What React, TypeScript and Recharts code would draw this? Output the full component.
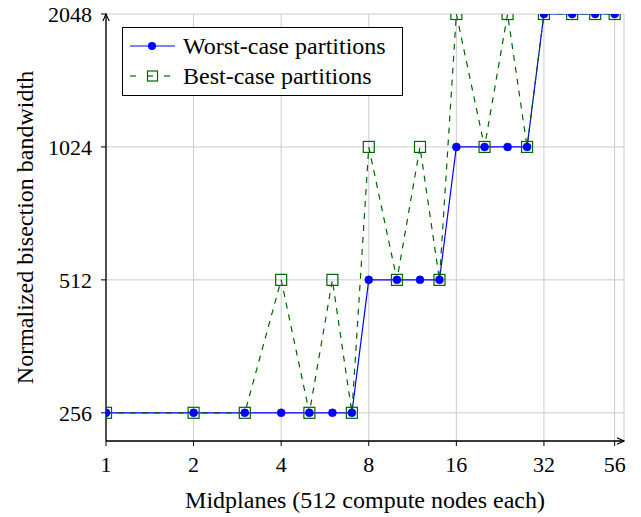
import { LineChart, Line, XAxis, YAxis, CartesianGrid } from 'recharts';

const midplanes = [1, 2, 3, 4, 5, 6, 7, 8, 10, 12, 14, 16, 20, 24, 28, 32, 40, 48, 56];
const worstCase = [256, 256, 256, 256, 256, 256, 256, 512, 512, 512, 512, 1024, 1024, 1024, 1024, 2048, 2048, 2048, 2048];
const bestCase = [256, 256, 256, 512, 256, 512, 256, 1024, 512, 1024, 512, 2048, 1024, 2048, 1024, 2048, 2048, 2048, 2048];
const xTicks = [1, 2, 4, 8, 16, 32, 56];
const yTicks = [256, 512, 1024, 2048];

const data = midplanes.map((m, i) => ({ m, worst: worstCase[i], best: bestCase[i] }));

const FONT = '"Liberation Serif", "DejaVu Serif", serif';
const BLUE = '#0000ff';
const GREEN = '#006400';

function SquareDot(props: any) {
  const { cx, cy, index } = props;
  if (cx == null || cy == null) return <g key={index} />;
  return <rect key={index} x={cx - 5.5} y={cy - 5.5} width={11} height={11} fill="none" stroke={GREEN} strokeWidth={1.2} />;
}

// legend drawn as a plain box over the plot, like pgfplots' north west legend
function LegendBox() {
  return (
    <div style={{ position: 'absolute', left: 122, top: 27, boxSizing: 'border-box', border: '1px solid #000', background: '#fff', width: 281, height: 69, paddingTop: 3, fontFamily: FONT, fontSize: 24, color: '#000', lineHeight: '30px' }}>
      <div style={{ display: 'flex', alignItems: 'center', height: 30 }}>
        <svg width={60} height={20} style={{ flex: 'none' }}>
          <line x1={7} y1={10} x2={52} y2={10} stroke={BLUE} strokeWidth={1.2} />
          <circle cx={29} cy={10} r={4} fill={BLUE} />
        </svg>
        <span>Worst-case partitions</span>
      </div>
      <div style={{ display: 'flex', alignItems: 'center', height: 30 }}>
        <svg width={60} height={20} style={{ flex: 'none' }}>
          <line x1={7} y1={10} x2={13} y2={10} stroke={GREEN} strokeWidth={1.2} />
          <line x1={25} y1={10} x2={30} y2={10} stroke={GREEN} strokeWidth={1.2} />
          <line x1={41} y1={10} x2={47} y2={10} stroke={GREEN} strokeWidth={1.2} />
          <rect x={24.5} y={5} width={10} height={10} fill="none" stroke={GREEN} strokeWidth={1.2} />
        </svg>
        <span>Best-case partitions</span>
      </div>
    </div>
  );
}

export default function App() {
  return (
    <div style={{ position: 'absolute', left: 0, top: 0, width: 641, height: 517, background: '#fff' }}>
      <LineChart width={641} height={517} data={data} margin={{ top: 14, right: 17, left: 10, bottom: 16 }} style={{ fontFamily: FONT }}>
        <defs>
          <marker id="arrowEnd" viewBox="0 0 10 10" refX="9" refY="5" markerWidth="8" markerHeight="8" orient="auto-start-reverse" markerUnits="userSpaceOnUse">
            <path d="M0,1 L9,5 L0,9" fill="none" stroke="#000" strokeWidth={1.4} />
          </marker>
        </defs>
        <CartesianGrid stroke="#cccccc" strokeWidth={1} />
        <XAxis
          dataKey="m"
          type="number"
          scale="log"
          domain={[1, 60.3]}
          ticks={xTicks}
          allowDataOverflow
          height={60}
          tickSize={5}
          tickMargin={10}
          tick={{ fill: '#000', fontSize: 22, fontFamily: FONT }}
          axisLine={{ stroke: '#000', strokeWidth: 1.3, markerEnd: 'url(#arrowEnd)' } as any}
          tickLine={{ stroke: '#000' }}
          label={{ value: 'Midplanes (512 compute nodes each)', position: 'insideBottom', offset: -7, fill: '#000', fontSize: 24, fontFamily: FONT }}
        />
        <YAxis
          type="number"
          scale="log"
          domain={[221, 2048]}
          ticks={yTicks}
          allowDataOverflow
          width={96}
          tickSize={5}
          tickMargin={9}
          tick={{ fill: '#000', fontSize: 22, fontFamily: FONT }}
          axisLine={{ stroke: '#000', strokeWidth: 1.3, markerStart: 'url(#arrowEnd)' } as any}
          tickLine={{ stroke: '#000' }}
          label={{ value: 'Normalized bisection bandwidth', angle: -90, position: 'insideLeft', offset: 14, fill: '#000', fontSize: 24, fontFamily: FONT, style: { textAnchor: 'middle' } }}
        />
        <Line dataKey="worst" stroke={BLUE} strokeWidth={1.2} dot={{ r: 4, fill: BLUE, stroke: BLUE, strokeWidth: 0.5 }} isAnimationActive={false} />
        <Line dataKey="best" stroke={GREEN} strokeWidth={1.2} strokeDasharray="6 6" dot={SquareDot} isAnimationActive={false} />
      </LineChart>
      <LegendBox />
    </div>
  );
}
